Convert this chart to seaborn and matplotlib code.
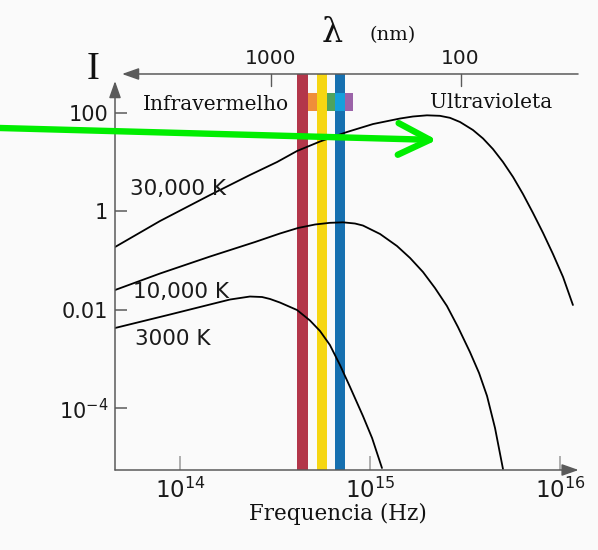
import numpy as np
import pandas as pd
import matplotlib
matplotlib.use("Agg")
import matplotlib.pyplot as plt
import seaborn as sns

# ---- blackbody curves: log10 frequency (Hz) and log10 intensity ----
temps = ["30,000 K", "10,000 K", "3000 K"]

logf_30000 = [13.658, 13.895, 14.158, 14.368, 14.511, 14.616, 14.737, 14.879,
              15.016, 15.158, 15.226, 15.300, 15.368, 15.421, 15.474, 15.542,
              15.595, 15.647, 15.700, 15.753, 15.805, 15.858, 15.911, 15.963,
              16.016, 16.068]
logI_30000 = [-0.724, -0.195, 0.333, 0.740, 1.004, 1.228, 1.421, 1.614,
              1.776, 1.888, 1.929, 1.953, 1.943, 1.902, 1.817, 1.654,
              1.482, 1.268, 1.004, 0.699, 0.354, -0.033, -0.439, -0.866,
              -1.333, -1.902]

logf_10000 = [13.658, 13.895, 14.158, 14.395, 14.526, 14.621, 14.711, 14.789,
              14.858, 14.921, 14.963, 15.053, 15.142, 15.211, 15.279, 15.342,
              15.405, 15.463, 15.526, 15.574, 15.616, 15.658, 15.700]
logI_10000 = [-1.598, -1.262, -0.917, -0.622, -0.449, -0.337, -0.266, -0.232,
              -0.222, -0.246, -0.287, -0.459, -0.703, -0.947, -1.232, -1.557,
              -1.923, -2.350, -2.858, -3.285, -3.752, -4.402, -5.236]

logf_3000 = [13.658, 13.947, 14.158, 14.263, 14.368, 14.432, 14.474, 14.526,
             14.616, 14.684, 14.737, 14.789, 14.842, 14.895, 14.963, 15.011,
             15.063]
logI_3000 = [-2.370, -2.096, -1.892, -1.791, -1.730, -1.740, -1.780, -1.852,
             -2.004, -2.217, -2.431, -2.715, -3.122, -3.569, -4.159, -4.606,
             -5.215]

# ---- visible band stripes (frequency bounds, Hz) ----
stripe_lo = [4.13e14, 5.24e14, 6.55e14]
stripe_hi = [4.72e14, 5.92e14, 7.38e14]
stripe_colors = ["#b3364a", "#f6d612", "#1670b0"]

# small colour swatches next to the stripes
swatch_lo = [4.72e14, 5.94e14, 6.55e14, 7.38e14]
swatch_hi = [5.26e14, 6.55e14, 7.38e14, 8.15e14]
swatch_colors = ["#ef8e3a", "#4ea35e", "#14a0dc", "#9b63a8"]
swatch_bottom, swatch_top = 110.0, 255.0

# ---- axes ticks ----
x_ticks = [1e14, 1e15, 1e16]
x_tick_labels = [r"$10^{14}$", r"$10^{15}$", r"$10^{16}$"]
y_ticks = [1e2, 1.0, 1e-2, 1e-4]
y_tick_labels = ["100", "1", "0.01", r"$10^{-4}$"]
wavelength_ticks_nm = [1000, 100]
c_nm = 2.998e17  # speed of light in nm/s

sns.set_theme(style="white")
plt.rcParams["font.family"] = ["DejaVu Sans"]
plt.rcParams["mathtext.fontset"] = "dejavusans"

fig = plt.figure(figsize=(5.98, 5.5), dpi=100, facecolor="#fafafa")
ax = fig.add_axes([115 / 598, 80 / 550, (598 - 115) / 598, 470 / 550])
ax.set_facecolor("none")
ax.set_xscale("log")
ax.set_yscale("log")
x0, x1 = 10 ** 13.658, 10 ** 16.2
y0, y1 = 10 ** -5.256, 10 ** 4.297
ax.set_xlim(x0, x1)
ax.set_ylim(y0, y1)
for s in ax.spines.values():
    s.set_visible(False)

axis_col = "#5a5a5a"
top_line_y = 10 ** 2.793

# visible stripes
for lo, hi, col in zip(stripe_lo, stripe_hi, stripe_colors):
    ax.fill_between([lo, hi], y0, top_line_y, color=col, lw=0, zorder=1)
for lo, hi, col in zip(swatch_lo, swatch_hi, swatch_colors):
    ax.fill_between([lo, hi], swatch_bottom, swatch_top, color=col, lw=0, zorder=1.5)

# curves
curves = pd.concat([
    pd.DataFrame({"freq": np.power(10.0, lf), "I": np.power(10.0, li), "T": t})
    for t, lf, li in [(temps[0], logf_30000, logI_30000),
                      (temps[1], logf_10000, logI_10000),
                      (temps[2], logf_3000, logI_3000)]
])
sns.lineplot(data=curves, x="freq", y="I", units="T", estimator=None, sort=False,
             color="black", lw=1.3, ax=ax, legend=False, zorder=3,
             solid_joinstyle="round", solid_capstyle="round")
ax.set_xlabel("")
ax.set_ylabel("")

# axes drawn as arrows
arrow_kw = dict(arrowstyle="-|>,head_length=0.85,head_width=0.3", color=axis_col,
                lw=1.1, shrinkA=0, shrinkB=0)
ax.annotate("", xy=(10 ** 16.098, y0), xytext=(x0, y0), arrowprops=arrow_kw,
            annotation_clip=False, zorder=4)
ax.annotate("", xy=(x0, 10 ** 2.65), xytext=(x0, y0), arrowprops=arrow_kw,
            annotation_clip=False, zorder=4)
ax.annotate("", xy=(10 ** 13.695, top_line_y), xytext=(10 ** 16.095, top_line_y),
            arrowprops=arrow_kw, annotation_clip=False, zorder=4)

# ticks
ax.minorticks_off()
ax.set_xticks(x_ticks)
ax.set_xticklabels(x_tick_labels)
ax.set_yticks(y_ticks)
ax.set_yticklabels(y_tick_labels)
ax.tick_params(axis="x", direction="in", length=10, width=1.1, color="#9a9a9a",
               pad=5.5, labelsize=16.5, bottom=True, labelcolor="#1a1a1a")
ax.tick_params(axis="y", direction="in", length=8.6, width=1.1, color=axis_col,
               pad=5, labelsize=15, left=True, labelcolor="#1a1a1a")

# wavelength axis ticks
for wl in wavelength_ticks_nm:
    f = c_nm / wl
    ax.plot([f, f], [top_line_y, 10 ** 2.55], color=axis_col, lw=1.0, zorder=4)
    ax.text(f, 10 ** 3.118, str(wl), ha="center", va="center", fontsize=14.5,
            color="#1a1a1a")

serif = ["DejaVu Serif"]
ax.text(10 ** 14.80, 10 ** 3.63, "λ", ha="center", va="center", fontsize=24,
        family=serif, color="#111111")
ax.text(10 ** 15.121, 10 ** 3.585, "(nm)", ha="center", va="center", fontsize=14,
        family=serif, color="#111111")
ax.text(10 ** 13.542, 10 ** 2.894, "I", ha="center", va="center", fontsize=28,
        family=["Liberation Serif"], color="#111111")
ax.text(10 ** 13.805, 10 ** 2.061, "Infravermelho", ha="left", va="baseline",
        fontsize=14.5, family=serif, color="#111111")
ax.text(10 ** 15.316, 10 ** 2.102, "Ultravioleta", ha="left", va="baseline",
        fontsize=14.5, family=serif, color="#111111")
ax.text(10 ** 14.832, 10 ** -6.28, "Frequencia (Hz)", ha="center", va="baseline",
        fontsize=15.5, family=serif, color="#111111")

# temperature labels
label_pos = [(10 ** 13.737, 10 ** 0.333), (10 ** 13.753, 10 ** -1.766),
             (10 ** 13.763, 10 ** -2.715)]
for t, (lx, ly) in zip(temps, label_pos):
    ax.text(lx, ly, t, ha="left", va="baseline", fontsize=15.5, color="#1a1a1a",
            zorder=5)

# green pointer arrow toward the peak
ax.annotate(
    "", xy=(437, 550 - 140), xytext=(0, 550 - 128),
    xycoords="figure pixels", textcoords="figure pixels",
    arrowprops=dict(arrowstyle="->,head_length=1.9,head_width=0.95",
                    color="#00ee00", lw=4.6, shrinkA=0, shrinkB=0,
                    capstyle="round", joinstyle="round"),
    annotation_clip=False, zorder=10)

fig.savefig("out.png", dpi=100, facecolor=fig.get_facecolor())
